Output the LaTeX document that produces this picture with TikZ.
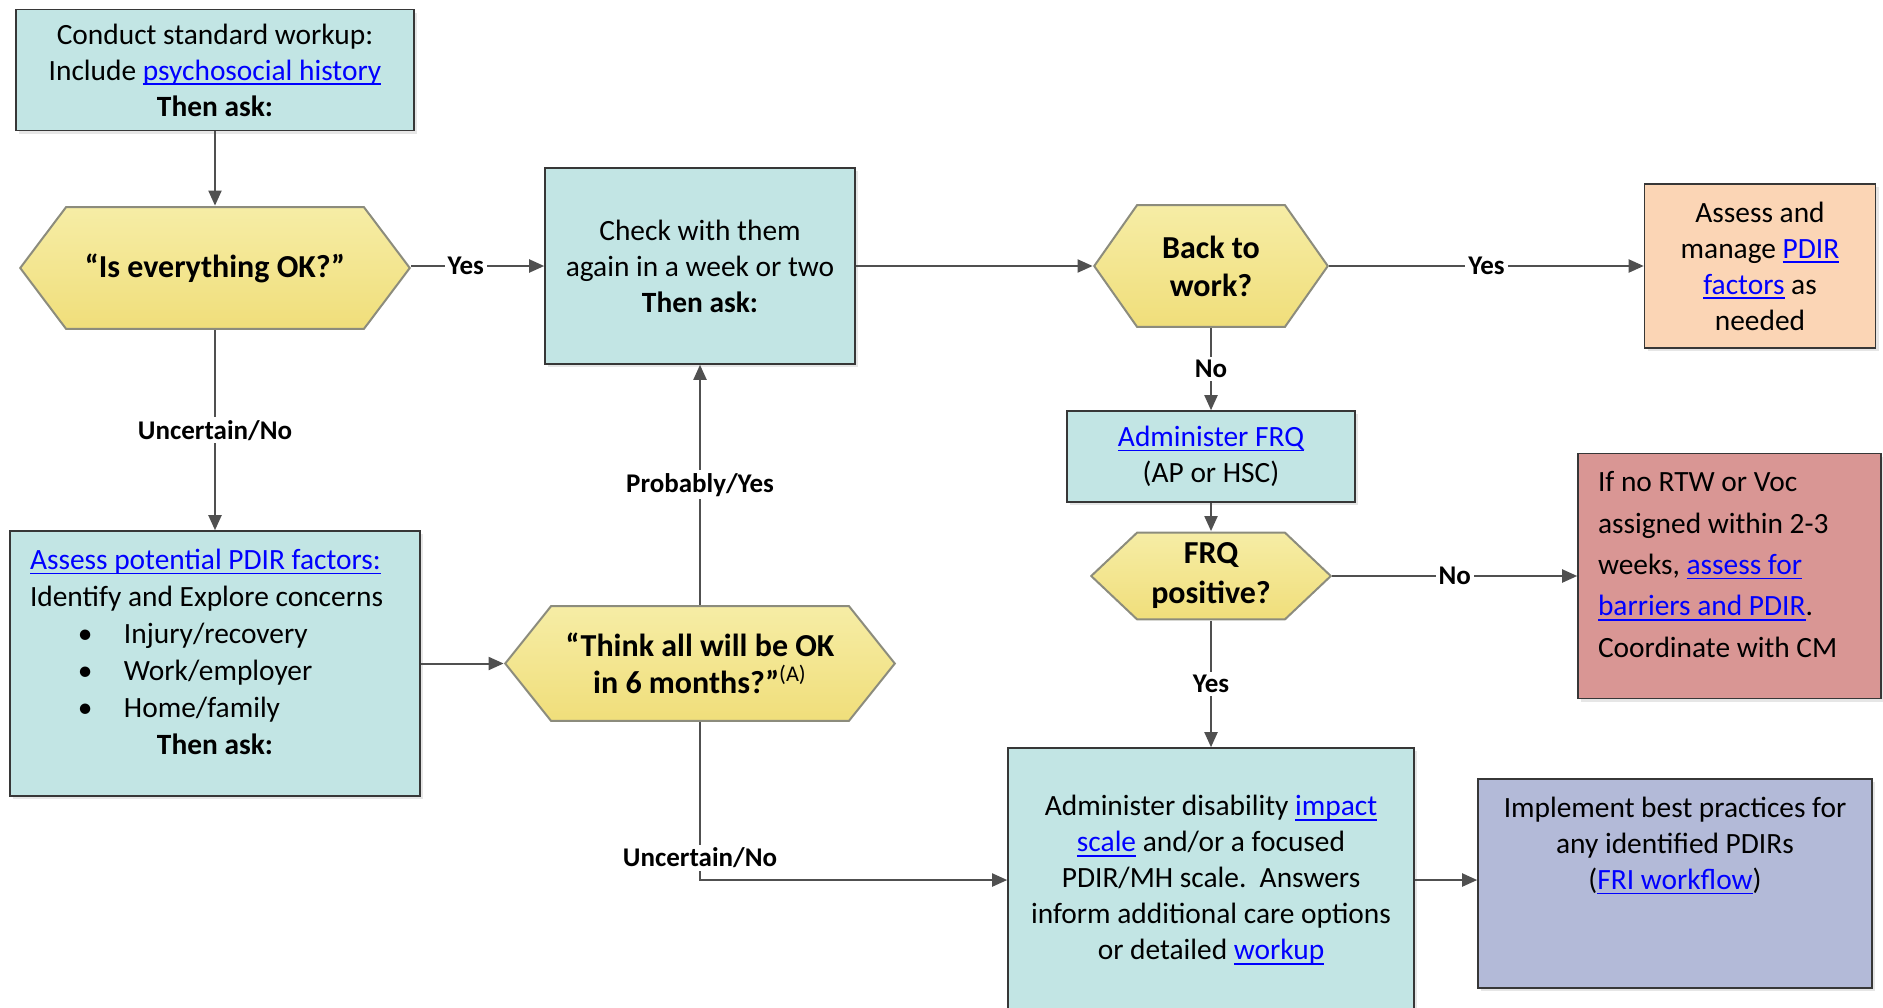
\documentclass[tikz,border=0pt]{standalone}
\usepackage{fontspec}
\setmainfont{Carlito}
\usepackage{tikz}
\usetikzlibrary{arrows.meta, shadows}

\definecolor{boxteal}{RGB}{194,229,228}
\definecolor{boxline}{RGB}{55,55,55}
\definecolor{hextop}{RGB}{246,237,166}
\definecolor{hexbot}{RGB}{240,222,122}
\definecolor{hexline}{RGB}{140,140,125}
\definecolor{boxpeach}{RGB}{251,213,181}
\definecolor{boxred}{RGB}{217,150,148}
\definecolor{boxlilac}{RGB}{179,186,216}
\definecolor{linkblue}{RGB}{0,0,255}
\definecolor{linegray}{RGB}{80,80,80}

\newsavebox\lnkbox
\newcommand{\lnk}[1]{\textcolor{linkblue}{\sbox\lnkbox{#1}\rlap{\rule[-2.4pt]{\wd\lnkbox}{0.8pt}}\usebox\lnkbox}}
\newcommand{\bulletitem}[1]{\makebox[47pt][l]{\hspace{24pt}\textbullet}#1}

\tikzstyle{process} = [rectangle, draw=boxline, line width=0.8pt, fill=boxteal, align=center, inner sep=0pt, font=\fontsize{14.7}{18}\selectfont, drop shadow={shadow xshift=1.5pt, shadow yshift=-1.5pt, opacity=0.2}]
\tikzstyle{arrow} = [draw=linegray, line width=1pt, -{Triangle[length=7.5pt, width=6.5pt]}]
\tikzstyle{lbl} = [fill=white, inner sep=1.5pt, font=\fontsize{13.5}{13.5}\selectfont\bfseries]

\tikzset{decision/.style={rectangle, inner sep=0pt, align=center,
  font=\fontsize{16}{19}\selectfont\bfseries,
  path picture={\path[top color=hextop, bottom color=hexbot, draw=hexline, line width=1pt]
    ([xshift=0.6pt]path picture bounding box.west)
    -- ([xshift=#1, yshift=-0.6pt]path picture bounding box.north west)
    -- ([xshift=-#1, yshift=-0.6pt]path picture bounding box.north east)
    -- ([xshift=-0.6pt]path picture bounding box.east)
    -- ([xshift=-#1, yshift=0.6pt]path picture bounding box.south east)
    -- ([xshift=#1, yshift=0.6pt]path picture bounding box.south west) -- cycle;}}}

\begin{document}
\begin{tikzpicture}[x=0.5pt, y=-0.5pt]
\useasboundingbox (0,0) rectangle (1883,1007);
\clip (0,0) rectangle (1883,1007);

% left column
\node (workup) [process, minimum width=199pt, minimum height=60.5pt] at (215,70) {Conduct standard workup:\\ Include \lnk{psychosocial history}\\ \textbf{Then ask:}};

\node (everything) [decision=23.5pt, minimum width=196pt, minimum height=62pt] at (215,268) {“Is everything OK?”};

\node (factors) [process, inner xsep=10pt] at (215,663.5) {\parbox[c][132.5pt][t]{185pt}{\raggedright\fontsize{14.7}{18.5}\selectfont\vspace*{9pt}\lnk{Assess potential PDIR factors:}\\ Identify and Explore concerns\\ \bulletitem{Injury/recovery}\\ \bulletitem{Work/employer}\\ \bulletitem{Home/family}\\ \makebox[\linewidth]{\textbf{Then ask:}}}};

% middle column
\node (checkback) [process, minimum width=155pt, minimum height=98pt] at (700,266) {Check with them\\ again in a week or two\\ \textbf{Then ask:}};

\node (sixmonths) [decision=23.5pt, minimum width=196pt, minimum height=58.5pt, font=\fontsize{16}{18.5}\selectfont\bfseries] at (700,663.5) {“Think all will be OK\\ in 6 months?”\textsuperscript{\mdseries(A)}};

% right part
\node (backwork) [decision=22pt, minimum width=118pt, minimum height=62pt] at (1211,266) {Back to\\ work?};

\node (manage) [process, fill=boxpeach, minimum width=115.5pt, minimum height=82pt] at (1760,266) {Assess and\\ manage \lnk{PDIR}\\ \lnk{factors} as\\ needed};

\node (frq) [process, minimum width=144pt, minimum height=45.5pt] at (1211,456.5) {\lnk{Administer FRQ}\\ (AP or HSC)};

\node (frqpos) [decision=23.5pt, minimum width=121pt, minimum height=44.5pt, font=\fontsize{16}{20}\selectfont\bfseries] at (1211,576) {FRQ\\ positive?};

\node (barriers) [process, fill=boxred, inner xsep=10pt] at (1729.5,576) {\parbox[c][122.5pt][t]{131.5pt}{\raggedright\fontsize{14.7}{20.7}\selectfont\vspace*{9pt}If no RTW or Voc\\ assigned within 2-3\\ weeks, \lnk{assess for}\\ \lnk{barriers and PDIR}.\\ Coordinate with CM}};

\node (impact) [process, minimum width=203pt, minimum height=132pt] at (1211,880) {Administer disability \lnk{impact}\\ \lnk{scale} and/or a focused\\ PDIR/MH scale.\ \ Answers\\ inform additional care options\\ or detailed \lnk{workup}};

\node (practices) [process, fill=boxlilac] at (1675,883.5) {\parbox[c][104.5pt][t]{197pt}{\centering\fontsize{14.7}{18}\selectfont\vspace*{9pt}Implement best practices for\\ any identified PDIRs\\ (\lnk{FRI workflow})}};

% connectors
\draw [arrow] (workup) -- (everything);
\draw [arrow] (everything.east |- checkback) -- node[lbl, pos=0.41] {Yes} (checkback);
\draw [arrow] (everything) -- node[lbl] {Uncertain/No} (factors);
\draw [arrow] (factors) -- (sixmonths);
\draw [arrow] (sixmonths) -- node[lbl] {Probably/Yes} (checkback);
\draw [arrow] (sixmonths.south) |- node[lbl, pos=0.43] {Uncertain/No} (impact.west);
\draw [arrow] (checkback) -- (backwork);
\draw [arrow] (backwork) -- node[lbl] {Yes} (manage);
\draw [arrow] (backwork) -- node[lbl] {No} (frq);
\draw [arrow] (frq) -- (frqpos);
\draw [arrow] (frqpos) -- node[lbl] {No} (barriers);
\draw [arrow] (frqpos) -- node[lbl] {Yes} (impact);
\draw [arrow] (impact.east) -- (impact.east -| practices.west);
\end{tikzpicture}
\end{document}
